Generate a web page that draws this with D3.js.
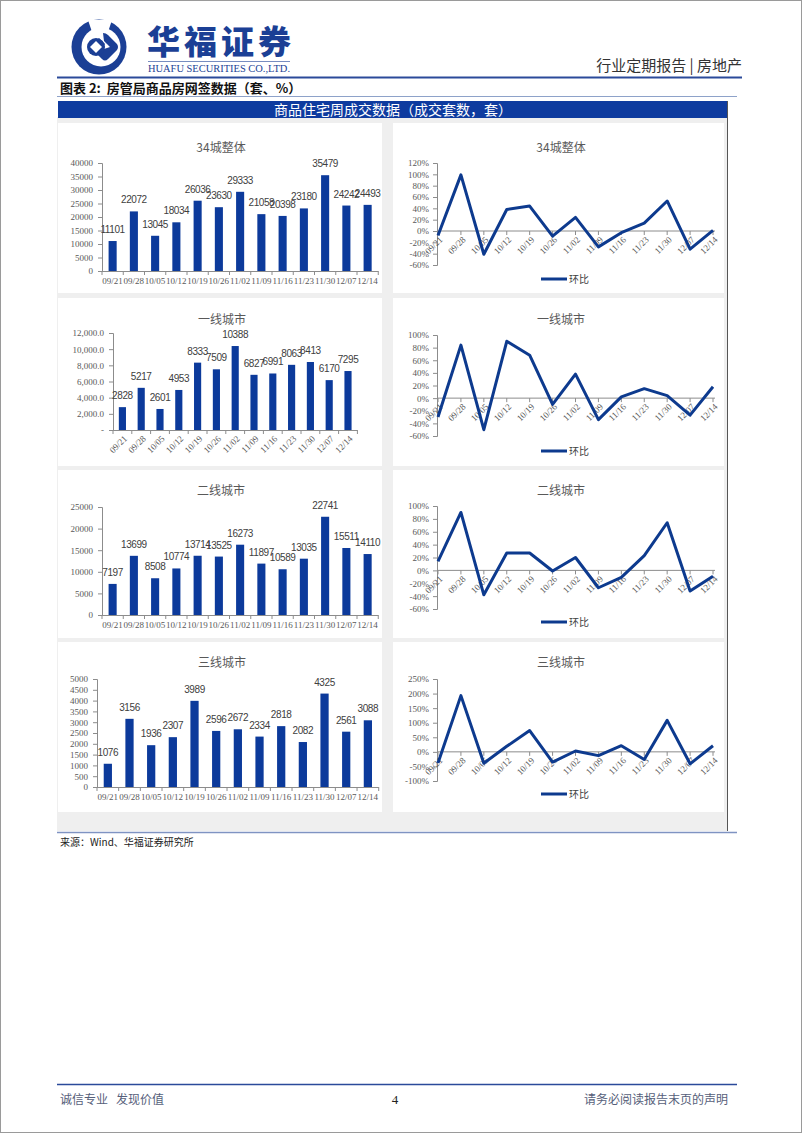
<!DOCTYPE html>
<html><head><meta charset="utf-8">
<script src="https://cdn.jsdelivr.net/npm/d3@7"></script>
<style>body{margin:0;background:#fff}svg{display:block}text{white-space:pre}</style>
</head><body>
<svg id="c" width="802" height="1133"></svg>
<script>
// ---------- DATA ----------
const categories = ["09/21","09/28","10/05","10/12","10/19","10/26","11/02","11/09","11/16","11/23","11/30","12/07","12/14"];

const volTotal = [11101,22072,13045,18034,26036,23630,29333,21058,20398,23180,35479,24242,24493];
const volTier1 = [2828,5217,2601,4953,8333,7509,10388,6827,6991,8063,8413,6170,7295];
const volTier2 = [7197,13699,8508,10774,13714,13525,16273,11897,10589,13035,22741,15511,14110];
const volTier3 = [1076,3156,1936,2307,3989,2596,2672,2334,2818,2082,4325,2561,3088];

const wowTotal = [-8,99,-41,38,44,-9,24,-28,-3,14,53,-32,1];
const wowTier1 = [-30,84,-50,90,68,-10,38,-34,2,15,4,-27,18];
const wowTier2 = [14,90,-38,27,27,-1,20,-27,-11,23,74,-32,-9];
const wowTier3 = [-38,193,-39,19,73,-35,3,-13,21,-26,108,-41,21];

const volTicksTotal = [0,5000,10000,15000,20000,25000,30000,35000,40000];
const volTicksTier1 = [0,2000,4000,6000,8000,10000,12000];
const volTickLabelsTier1 = ["-","2,000.0","4,000.0","6,000.0","8,000.0","10,000.0","12,000.0"];
const volTicksTier2 = [0,5000,10000,15000,20000,25000];
const volTicksTier3 = [0,500,1000,1500,2000,2500,3000,3500,4000,4500,5000];

const wowTicksTotal = [-60,-40,-20,0,20,40,60,80,100,120];
const wowTicksTier1 = [-60,-40,-20,0,20,40,60,80,100];
const wowTicksTier2 = [-60,-40,-20,0,20,40,60,80,100];
const wowTicksTier3 = [-100,-50,0,50,100,150,200,250];

const titles = ["34城整体","一线城市","二线城市","三线城市"];
const legendLabel = "环比";

// ---------- STYLE ----------
const BLUE = "#0c3a9b";
const LINE = "#0d3a8e";
const AXIS = "#8c8c8c";
const TXT = "#595959";
const SERIF = "'Liberation Serif','Times New Roman',serif";
const SANS = "'Liberation Sans',Arial,sans-serif";
const CJK = "'Noto Sans CJK SC','Noto Sans',sans-serif";

const svg = d3.select("#c");

// page frame
svg.append("rect").attr("x",0.5).attr("y",0.5).attr("width",801).attr("height",1132)
  .attr("fill","#fff").attr("stroke","#9a9a9a");

// ---------- HEADER ----------
const logo = svg.append("g");
logo.append("circle").attr("cx",99).attr("cy",47).attr("r",27.5).attr("fill","#1b3f95");
logo.append("circle").attr("cx",101).attr("cy",47).attr("r",19.5).attr("fill","#fff");
logo.append("path").attr("d","M88,20 L112,20 L108,32 L92,32 Z").attr("fill","#fff");
logo.append("path").attr("d","M103,33 Q106,33 108,35 L117,44 Q119,47 117,50 L108,59 Q105,62 102,59 L93,50 Q90,47 93,44 L99,38 L105,44 L102,47 L104,49 L110,47 L104,41 Z")
  .attr("fill","#1b3f95");
logo.append("circle").attr("cx",96).attr("cy",47).attr("r",9).attr("fill","#1b3f95");
logo.append("path").attr("d","M96,41 L102,47 L96,53 L90,47 Z").attr("fill","#fff");

svg.append("text").attr("x",147).attr("y",54).attr("font-family",CJK).attr("font-weight",900)
  .attr("font-size",33).attr("textLength",144).attr("fill","#1b3f95").text("华福证券");
svg.append("line").attr("x1",148).attr("x2",290).attr("y1",61.5).attr("y2",61.5)
  .attr("stroke","#1b3f95").attr("stroke-width",0.6);
svg.append("text").attr("x",148).attr("y",72).attr("font-family",SERIF).attr("font-size",10.5)
  .attr("textLength",142).attr("lengthAdjust","spacingAndGlyphs").attr("fill","#1b3f95")
  .text("HUAFU SECURITIES CO.,LTD.");
svg.append("text").attr("x",742).attr("y",71).attr("text-anchor","end").attr("font-family",CJK)
  .attr("font-size",15).attr("fill","#333").text("行业定期报告 | 房地产");
svg.append("line").attr("x1",57).attr("x2",742).attr("y1",77.5).attr("y2",77.5)
  .attr("stroke","#2b4a9a").attr("stroke-width",2);
svg.append("text").attr("x",60).attr("y",93).attr("font-family",CJK).attr("font-weight",700)
  .attr("font-size",13).attr("fill","#111").text("图表 2:  房管局商品房网签数据（套、%）");
svg.append("line").attr("x1",57).attr("x2",737).attr("y1",96.5).attr("y2",96.5)
  .attr("stroke","#8ea2c9").attr("stroke-width",1);

// ---------- FRAME ----------
svg.append("rect").attr("x",57).attr("y",117).attr("width",671).attr("height",714).attr("fill","#efefef");
svg.append("rect").attr("x",58).attr("y",101).attr("width",670).attr("height",17).attr("fill","#0e3b9f");
svg.append("text").attr("x",393).attr("y",115).attr("text-anchor","middle").attr("font-family",CJK)
  .attr("font-size",14).attr("fill","#fff").text("商品住宅周成交数据（成交套数，套）");
svg.append("line").attr("x1",727.5).attr("x2",727.5).attr("y1",101).attr("y2",831)
  .attr("stroke","#555").attr("stroke-width",1);

const rowTops = [123,298,470,642];
const rowH = [170,168,168,170];
rowTops.forEach((t,i)=>{
  svg.append("rect").attr("x",58).attr("y",t).attr("width",324).attr("height",rowH[i]).attr("fill","#fff");
  svg.append("rect").attr("x",393).attr("y",t).attr("width",331).attr("height",rowH[i]).attr("fill","#fff");
});

// ---------- BAR CHART ----------
function barChart(o){
  const g = svg.append("g");
  const x = d3.scaleBand().domain(categories).range([o.x0, o.x0 + 13*o.step])
    .paddingInner(0.62).paddingOuter(0.31);
  const y = d3.scaleLinear().domain([0, d3.max(o.ticks)]).range([o.y0, o.yTop]);
  g.append("text").attr("x",o.tx).attr("y",o.ty).attr("text-anchor","middle")
    .attr("font-family",CJK).attr("font-size",12).attr("fill",TXT).text(o.title);
  const ya = g.append("g").attr("transform",`translate(${o.x0},0)`)
    .call(d3.axisLeft(y).tickValues(o.ticks).tickSize(4).tickPadding(5)
      .tickFormat((d,i)=> o.labels ? o.labels[i] : d));
  ya.select(".domain").attr("stroke",AXIS);
  ya.selectAll(".tick line").attr("stroke",AXIS);
  ya.selectAll("text").attr("font-family",SERIF).attr("font-size",9).attr("fill",TXT);
  g.selectAll("rect.b").data(o.values).join("rect").attr("class","b")
    .attr("x",(d,i)=>x(categories[i])).attr("width",x.bandwidth())
    .attr("y",d=>y(d)).attr("height",d=>o.y0 - y(d)).attr("fill",BLUE);
  g.append("line").attr("x1",o.x0).attr("x2",o.x0+13*o.step).attr("y1",o.y0+0.5).attr("y2",o.y0+0.5).attr("stroke",AXIS);
  d3.range(14).forEach(k=>{
    g.append("line").attr("x1",o.x0+k*o.step).attr("x2",o.x0+k*o.step)
      .attr("y1",o.y0).attr("y2",o.y0+4).attr("stroke",AXIS);
  });
  categories.forEach(c=>{
    const cx = x(c) + x.bandwidth()/2;
    const t = g.append("text").attr("font-family",SERIF).attr("font-size",9).attr("fill",TXT).text(c);
    if(o.rotate){
      t.attr("text-anchor","end").attr("transform",`translate(${cx+3},${o.y0+7}) rotate(-45)`).attr("dy","0.35em");
    } else {
      t.attr("text-anchor","middle").attr("x",cx).attr("y",o.y0+13);
    }
  });
  g.selectAll("text.dl").data(o.values).join("text").attr("class","dl")
    .attr("x",(d,i)=>x(categories[i])+x.bandwidth()/2).attr("y",d=>y(d)-8)
    .attr("text-anchor","middle").attr("font-family",SANS).attr("font-size",10)
    .attr("letter-spacing","-0.4").attr("fill","#404040").text(d=>d);
}

// ---------- LINE CHART ----------
function lineChart(o){
  const g = svg.append("g");
  const x = d3.scalePoint().domain(categories).range([438,713]);
  const y = d3.scaleLinear().domain(d3.extent(o.ticks)).range([o.yBot, o.yTop]);
  g.append("text").attr("x",561).attr("y",o.ty).attr("text-anchor","middle")
    .attr("font-family",CJK).attr("font-size",12).attr("fill",TXT).text(o.title);
  const ya = g.append("g").attr("transform",`translate(437,0)`)
    .call(d3.axisLeft(y).tickValues(o.ticks).tickSize(4).tickPadding(4).tickFormat(d=>d+"%"));
  ya.select(".domain").attr("stroke",AXIS);
  ya.selectAll(".tick line").attr("stroke",AXIS);
  ya.selectAll("text").attr("font-family",SERIF).attr("font-size",9).attr("fill",TXT);
  const z = y(0);
  g.append("line").attr("x1",437).attr("x2",715).attr("y1",z).attr("y2",z).attr("stroke",AXIS).attr("stroke-width",1);
  categories.forEach(c=>{
    g.append("line").attr("x1",x(c)).attr("x2",x(c)).attr("y1",z).attr("y2",z+4).attr("stroke",AXIS);
    g.append("text").attr("font-family",SERIF).attr("font-size",9).attr("fill",TXT)
      .attr("text-anchor","end").attr("transform",`translate(${x(c)+3},${z+7}) rotate(-45)`)
      .attr("dy","0.35em").text(c);
  });
  const line = d3.line().x((d,i)=>x(categories[i])).y(d=>y(d));
  g.append("path").datum(o.values).attr("d",line).attr("fill","none")
    .attr("stroke",LINE).attr("stroke-width",3).attr("stroke-linejoin","round");
  g.append("line").attr("x1",541).attr("x2",567).attr("y1",o.ly).attr("y2",o.ly)
    .attr("stroke",LINE).attr("stroke-width",3);
  g.append("text").attr("x",569).attr("y",o.ly).attr("dy","0.35em").attr("font-family",CJK)
    .attr("font-size",10).attr("fill","#404040").text(legendLabel);
}

barChart({title:titles[0],values:volTotal,ticks:volTicksTotal,x0:102,step:21.25,yTop:163,y0:271,tx:221,ty:152,rotate:false});
barChart({title:titles[1],values:volTier1,ticks:volTicksTier1,labels:volTickLabelsTier1,x0:113,step:18.8,yTop:333,y0:430,tx:222,ty:324,rotate:true});
barChart({title:titles[2],values:volTier2,ticks:volTicksTier2,x0:102,step:21.25,yTop:507,y0:615,tx:221,ty:495,rotate:false});
barChart({title:titles[3],values:volTier3,ticks:volTicksTier3,x0:97,step:21.67,yTop:679,y0:787,tx:222,ty:667,rotate:false});

lineChart({title:titles[0],values:wowTotal,ticks:wowTicksTotal,yTop:163,yBot:265,ty:152,ly:279});
lineChart({title:titles[1],values:wowTier1,ticks:wowTicksTier1,yTop:335,yBot:436,ty:324,ly:451});
lineChart({title:titles[2],values:wowTier2,ticks:wowTicksTier2,yTop:506,yBot:609,ty:495,ly:622});
lineChart({title:titles[3],values:wowTier3,ticks:wowTicksTier3,yTop:679,yBot:781,ty:667,ly:794});

// ---------- FOOTER ----------
svg.append("line").attr("x1",57).attr("x2",737).attr("y1",832.5).attr("y2",832.5)
  .attr("stroke","#7f93c2").attr("stroke-width",1.5);
svg.append("text").attr("x",60).attr("y",846).attr("font-family",CJK).attr("font-size",10)
  .attr("fill","#222").text("来源：Wind、华福证券研究所");

svg.append("line").attr("x1",57).attr("x2",737).attr("y1",1084.5).attr("y2",1084.5)
  .attr("stroke","#2b4a9a").attr("stroke-width",1.5);
svg.append("text").attr("x",60).attr("y",1104).attr("font-family",CJK).attr("font-size",12)
  .attr("fill","#56607a").text("诚信专业   发现价值");
svg.append("text").attr("x",395).attr("y",1104).attr("text-anchor","middle").attr("font-family",SERIF)
  .attr("font-size",13).attr("fill","#222").text("4");
svg.append("text").attr("x",728).attr("y",1104).attr("text-anchor","end").attr("font-family",CJK)
  .attr("font-size",12).attr("fill","#56607a").text("请务必阅读报告末页的声明");
</script>
</body></html>
